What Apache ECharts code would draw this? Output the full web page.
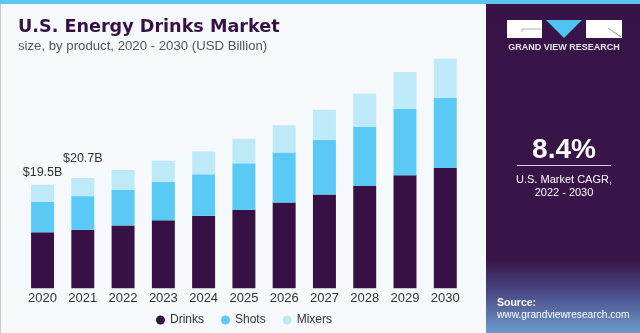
<!DOCTYPE html>
<html><head><meta charset="utf-8">
<script src="https://cdn.jsdelivr.net/npm/echarts@6/dist/echarts.min.js"></script>
<style>html,body{margin:0;padding:0;background:#f5f9fc}#c{width:640px;height:333px}</style>
</head><body><div id="c"></div>
<script>
const years = ['2020','2021','2022','2023','2024','2025','2026','2027','2028','2029','2030'];
const drinks = [10.5, 11.0, 11.8, 12.75, 13.6, 14.75, 16.1, 17.6, 19.2, 21.2, 22.6];
const shots  = [5.75, 6.3, 6.7, 7.2, 7.8, 8.7, 9.4, 10.3, 11.1, 12.5, 13.1];
const mixers = [3.2, 3.4, 3.7, 4.0, 4.3, 4.6, 5.1, 5.6, 6.25, 6.9, 7.4];
const totalLabels = ['$19.5B', '$20.7B'];
const labelDistances = [6, 13];

const chart = echarts.init(document.getElementById('c'));
const font = '"Liberation Sans", Arial, sans-serif';
const mixData = mixers.map((v, i) => i < totalLabels.length ? {
  value: v,
  label: { show: true, position: 'top', distance: labelDistances[i], formatter: totalLabels[i],
           color: '#333', fontSize: 12.5, fontFamily: font }
} : v);

chart.setOption({
  backgroundColor: '#f5f9fc',
  animation: false,
  textStyle: { fontFamily: font },
  grid: { left: 22.4, width: 443, top: 40, bottom: 44.7 },
  xAxis: {
    type: 'category', data: years,
    axisLine: { show: false }, axisTick: { show: false },
    axisLabel: { color: '#333', fontSize: 13, margin: 4, fontFamily: font }
  },
  yAxis: { type: 'value', min: 0, max: 46.6, show: false, splitLine: { show: false } },
  legend: {
    top: 309, left: 151, itemGap: 17, icon: 'circle', itemWidth: 9, itemHeight: 9,
    textStyle: { color: '#333', fontSize: 12, fontFamily: font }
  },
  series: [
    { name: 'Drinks', type: 'bar', stack: 't', data: drinks, barCategoryGap: '43%', itemStyle: { color: '#371045' } },
    { name: 'Shots', type: 'bar', stack: 't', data: shots, itemStyle: { color: '#5bc9f5' } },
    { name: 'Mixers', type: 'bar', stack: 't', data: mixData, itemStyle: { color: '#bde9f9' } }
  ],
  graphic: [
    { type: 'rect', shape: { x: 0, y: 0, width: 1, height: 333 }, style: { fill: '#c8ccd0' } },
    { type: 'rect', shape: { x: 486, y: 0, width: 154, height: 333 },
      style: { fill: new echarts.graphic.LinearGradient(0, 0, 0, 1, [
        { offset: 0, color: '#371347' }, { offset: 0.78, color: '#391548' },
        { offset: 0.88, color: '#4a4a86' }, { offset: 1, color: '#6d9ccc' }]) } },
    { type: 'rect', shape: { x: 0, y: 0, width: 640, height: 4 }, style: { fill: '#5ec5f0' } },
    { type: 'rect', shape: { x: 507, y: 20, width: 35, height: 18 }, style: { fill: '#ffffff' } },
    { type: 'line', shape: { x1: 522, y1: 29, x2: 541, y2: 29 }, style: { stroke: '#9a9aa8', lineWidth: 0.8 } },
    { type: 'line', shape: { x1: 522, y1: 29, x2: 522, y2: 32 }, style: { stroke: '#9a9aa8', lineWidth: 0.8 } },
    { type: 'polygon', shape: { points: [[546, 20], [582, 20], [564, 38]] }, style: { fill: '#4fc3f0' } },
    { type: 'rect', shape: { x: 586, y: 20, width: 36, height: 18 }, style: { fill: '#ffffff' } },
    { type: 'line', shape: { x1: 608, y1: 28, x2: 621, y2: 37 }, style: { stroke: '#7a6a8a', lineWidth: 0.8 } },
    { type: 'text', x: 564, y: 48, style: { text: 'GRAND VIEW RESEARCH', fill: '#e8e4ee', font: 'bold 9px ' + font, align: 'center', verticalAlign: 'middle' } },
    { type: 'text', x: 564, y: 150, style: { text: '8.4%', fill: '#ffffff', font: 'bold 28px ' + font, align: 'center', verticalAlign: 'middle' } },
    { type: 'rect', shape: { x: 517, y: 165, width: 94, height: 1 }, style: { fill: '#d8d0e0' } },
    { type: 'text', x: 564, y: 180, style: { text: 'U.S. Market CAGR,', fill: '#ffffff', font: '11px ' + font, align: 'center', verticalAlign: 'middle' } },
    { type: 'text', x: 564, y: 193, style: { text: '2022 - 2030', fill: '#ffffff', font: '11px ' + font, align: 'center', verticalAlign: 'middle' } },
    { type: 'text', x: 497, y: 303, style: { text: 'Source:', fill: '#ffffff', font: 'bold 10.5px ' + font, align: 'left', verticalAlign: 'middle' } },
    { type: 'text', x: 497, y: 315.5, style: { text: 'www.grandviewresearch.com', fill: '#ffffff', font: '10.2px ' + font, align: 'left', verticalAlign: 'middle' } },
    { type: 'text', x: 18, y: 27.5, style: { text: 'U.S. Energy Drinks Market', fill: '#371045', font: 'bold 17.6px "DejaVu Sans", sans-serif', align: 'left', verticalAlign: 'middle' } },
    { type: 'text', x: 18, y: 46.5, style: { text: 'size, by product, 2020 - 2030 (USD Billion)', fill: '#555555', font: '13.2px ' + font, align: 'left', verticalAlign: 'middle' } }
  ]
});
</script></body></html>
